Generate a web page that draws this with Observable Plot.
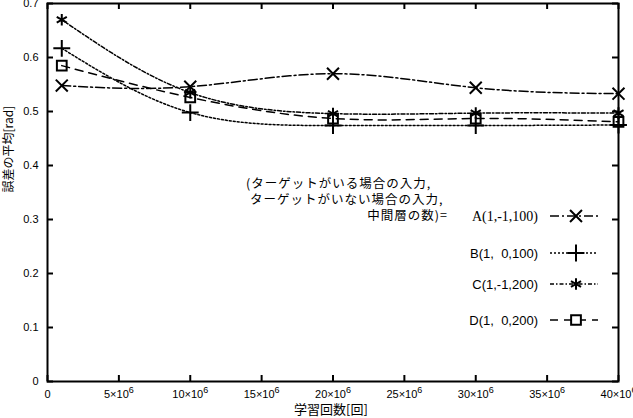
<!DOCTYPE html>
<html>
<head>
<meta charset="utf-8">
<script src="https://cdn.jsdelivr.net/npm/d3@7"></script>
<script src="https://cdn.jsdelivr.net/npm/@observablehq/plot@0.6"></script>
<style>
  html, body { margin: 0; padding: 0; background: #fff; }
  #chart svg { display: block; }
</style>
</head>
<body>
<div id="chart"></div>
<script>
// ---- data ----
const steps = [1e6, 10e6, 20e6, 30e6, 40e6];
const seriesNames = ["A(1,-1,100)", "B(1,  0,100)", "C(1,-1,200)", "D(1,  0,200)"];
const seriesA = [0.548, 0.546, 0.570, 0.544, 0.533];
const seriesB = [0.617, 0.498, 0.474, 0.474, 0.475];
const seriesC = [0.670, 0.535, 0.496, 0.497, 0.497];
const seriesD = [0.585, 0.526, 0.487, 0.487, 0.481];
const xTicks = [0, 5e6, 10e6, 15e6, 20e6, 25e6, 30e6, 35e6, 40e6];
const yTicks = [0, 0.1, 0.2, 0.3, 0.4, 0.5, 0.6, 0.7];
const legendTitle = ["(ターゲットがいる場合の入力,", "ターゲットがいない場合の入力,", "中間層の数)="];
const xLabel = "学習回数[回]";
const yLabel = "誤差の平均[rad]";

// ---- styles ----
const symbols = ["times", "plus", "asterisk", "square"];
const d3symbols = [d3.symbolTimes, d3.symbolPlus, d3.symbolAsterisk, d3.symbolSquare];
const dashes = ["9,3,2,3", "2,2", "4,2,1.5,2", "8,6"];
const legendFonts = ["'Liberation Serif', serif", "'Liberation Sans', sans-serif", "'Liberation Sans', sans-serif", "'Liberation Sans', sans-serif"];

const allSeries = [seriesA, seriesB, seriesC, seriesD];
const rows = allSeries.flatMap((vals, i) => vals.map((v, j) => ({series: seriesNames[i], idx: i, x: steps[j], y: v})));

const W = 633, H = 418;
const mL = 47, mR = 15, mT = 3, mB = 37;
const fw = W - mL - mR, fh = H - mT - mB;
const cjk = "'Noto Sans CJK JP', sans-serif";

const marks = [];
allSeries.forEach((vals, i) => {
  const data = rows.filter(r => r.idx === i);
  marks.push(Plot.line(data, {x: "x", y: "y", curve: "natural", stroke: "#000", strokeWidth: 1.5, strokeDasharray: dashes[i]}));
  marks.push(Plot.dot(data, {x: "x", y: "y", symbol: () => symbols[i], r: 5.5, stroke: "#000", strokeWidth: 2, fill: "none"}));
});
// inward ticks on all four sides
marks.push(Plot.tickX(xTicks, {x: d => d, insetTop: fh - 6, stroke: "#000", strokeWidth: 2}));
marks.push(Plot.tickX(xTicks, {x: d => d, insetBottom: fh - 6, stroke: "#000", strokeWidth: 2}));
marks.push(Plot.tickY(yTicks, {y: d => d, insetRight: fw - 6, stroke: "#000", strokeWidth: 2}));
marks.push(Plot.tickY(yTicks, {y: d => d, insetLeft: fw - 6, stroke: "#000", strokeWidth: 2}));
marks.push(Plot.frame({stroke: "#000", strokeWidth: 2}));
// axis titles
marks.push(Plot.text([yLabel], {text: d => d, frameAnchor: "left", dx: -38, rotate: -90, fontSize: 12, fill: "#000", fontFamily: cjk}));
marks.push(Plot.text([xLabel], {text: d => d, frameAnchor: "bottom", dx: -2, dy: 32, fontSize: 13, fill: "#000", fontFamily: cjk}));

const chart = Plot.plot({
  width: W,
  height: H,
  marginLeft: mL,
  marginRight: mR,
  marginTop: mT,
  marginBottom: mB,
  style: {fontFamily: "'Liberation Sans', sans-serif", fontSize: "11px", color: "#000", background: "#fff", overflow: "visible"},
  x: {domain: [0, 40e6], ticks: xTicks, tickSize: 0, tickPadding: 9, label: null,
      tickFormat: d => d === 0 ? "0" : `${d / 1e6}×10^6`},
  y: {domain: [0, 0.7], ticks: yTicks, tickSize: 0, tickPadding: 9, label: null,
      tickFormat: d => d === 0 ? "0" : d3.format(".1f")(d)},
  marks
});
document.getElementById("chart").appendChild(chart);

const svg = d3.select(chart);
// render "×10^6" with a raised superscript
svg.selectAll("text").each(function() {
  const t = d3.select(this);
  const s = t.text();
  if (/^\d+×10\^6$/.test(s)) {
    const base = s.replace("^6", "");
    t.text(null);
    t.append("tspan").text(base);
    t.append("tspan").attr("dy", "-0.55em").attr("font-size", "9px").text("6");
  }
});

// ---- legend (key box inside the plot) ----
const g = svg.append("g").attr("class", "legend").attr("fill", "#000");
const titleAttrs = (sel) => sel.attr("dy", "0.35em").attr("font-family", cjk).attr("font-size", 12.5).attr("letter-spacing", "1px");
titleAttrs(g.append("text").attr("x", 246).attr("y", 184).attr("text-anchor", "start").text(legendTitle[0]));
titleAttrs(g.append("text").attr("x", 250).attr("y", 200).attr("text-anchor", "start").text(legendTitle[1]));
titleAttrs(g.append("text").attr("x", 448).attr("y", 216).attr("text-anchor", "end").text(legendTitle[2]));
const rowY = [216, 253, 284, 320];
seriesNames.forEach((name, i) => {
  g.append("text").attr("x", 538).attr("y", rowY[i]).attr("dy", "0.35em").attr("text-anchor", "end")
    .attr("font-family", legendFonts[i]).attr("font-size", i === 0 ? 14 : 13).text(name);
  g.append("line").attr("x1", 550).attr("x2", 598).attr("y1", rowY[i]).attr("y2", rowY[i])
    .attr("stroke", "#000").attr("stroke-width", 1.5).attr("stroke-dasharray", dashes[i]);
  g.append("path").attr("transform", `translate(576,${rowY[i]})`)
    .attr("d", d3.symbol(d3symbols[i], Math.PI * 5.5 * 5.5)())
    .attr("fill", i === 3 ? "#fff" : "none").attr("stroke", "#000").attr("stroke-width", 2);
});
</script>
</body>
</html>
